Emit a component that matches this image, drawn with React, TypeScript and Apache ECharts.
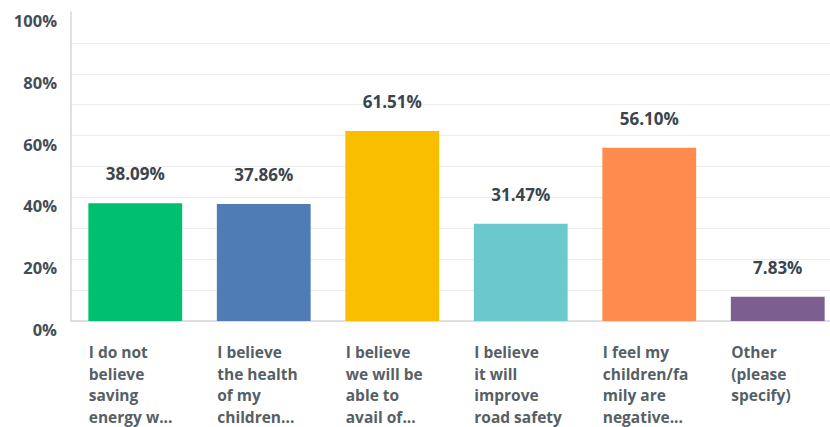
import React, { useEffect, useRef } from "react";
import * as echarts from "echarts";

const categories: string[][] = [
  ["I do not", "believe", "saving", "energy w..."],
  ["I believe", "the health", "of my", "children..."],
  ["I believe", "we will be", "able to", "avail of..."],
  ["I believe", "it will", "improve", "road safety"],
  ["I feel my", "children/fa", "mily are", "negative..."],
  ["Other", "(please", "specify)"],
];
const values: number[] = [38.09, 37.86, 61.51, 31.47, 56.1, 7.83];
const barColors: string[] = ["#00BF6F", "#507CB6", "#F9BE00", "#6BC8CD", "#FF8B4F", "#7D5E90"];
const yTicks: number[] = [0, 20, 40, 60, 80, 100];

export default function App() {
  const ref = useRef<HTMLDivElement>(null);
  useEffect(() => {
    if (!ref.current) return;
    const chart = echarts.init(ref.current, null, { renderer: "svg" });
    const font = "'Open Sans', sans-serif";
    chart.setOption({
      animation: false,
      grid: { left: 71, right: 0, top: 12, bottom: 106 },
      xAxis: {
        type: "category",
        data: categories.map((c) => c.join("\n")),
        axisLine: { show: true, lineStyle: { color: "#d6d7d8", width: 1.5 } },
        axisTick: { show: false },
        axisLabel: {
          interval: 0,
          margin: 20,
          formatter: (v: string) => v.split("\n").map((l) => `{a|${l}}`).join("\n"),
          rich: {
            a: {
              width: 93,
              align: "left",
              fontFamily: font,
              fontWeight: "bold",
              fontSize: 15.5,
              lineHeight: 21.7,
              color: "#575f66",
            },
          },
        },
      },
      yAxis: {
        type: "value",
        min: 0,
        max: 100,
        interval: 10,
        axisLine: { show: true, lineStyle: { color: "#d6d7d8", width: 1.5 } },
        axisTick: { show: false },
        splitLine: { show: true, showMaxLine: false, lineStyle: { color: "#ececec", width: 1.2 } },
        axisLabel: {
          margin: 14,
          verticalAlign: "top",
          fontFamily: font,
          fontWeight: "bold",
          fontSize: 16.5,
          color: "#434d55",
          formatter: (v: number) => (yTicks.includes(v) ? `${v}%` : ""),
        },
      },
      series: [
        {
          type: "bar",
          barWidth: "73%",
          data: values.map((v, i) => ({ value: v, itemStyle: { color: barColors[i] } })),
          label: {
            show: true,
            position: "top",
            distance: 21,
            fontFamily: font,
            fontWeight: "bold",
            fontSize: 17,
            color: "#3a454d",
            formatter: (p: any) => `${p.value.toFixed(2)}%`,
          },
        },
      ],
    });
    return () => chart.dispose();
  }, []);
  return (
    <div
      style={{
        position: "fixed",
        left: 0,
        top: 0,
        width: 830,
        height: 427,
        overflow: "hidden",
        background: "#fff",
      }}
    >
      <div ref={ref} style={{ width: 842, height: 427 }} />
    </div>
  );
}
